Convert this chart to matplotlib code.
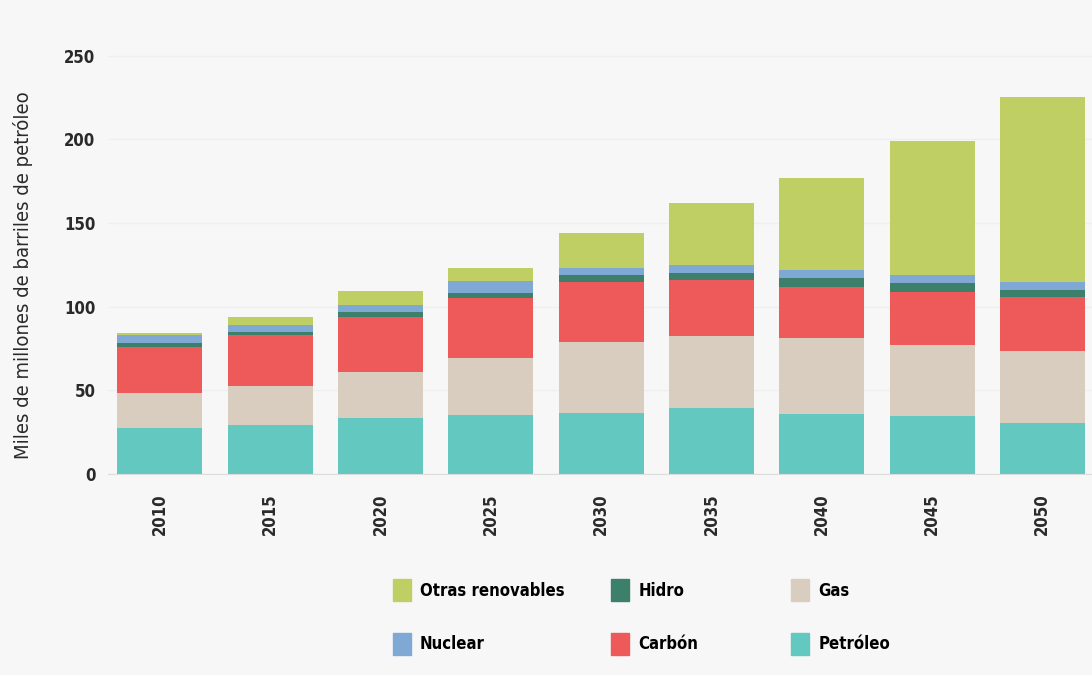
import matplotlib.pyplot as plt
import numpy as np
from matplotlib.patches import Patch

plt.rcParams['font.family'] = ['DejaVu Sans']
plt.rcParams['font.stretch'] = 'condensed'
plt.rcParams['font.weight'] = 'bold'

years = ['2010', '2015', '2020', '2025', '2030', '2035', '2040', '2045', '2050']
petroleo = [27.4, 29.0, 33.4, 35.0, 36.4, 39.4, 35.8, 34.6, 30.4]
gas = [20.9, 23.5, 27.6, 34.0, 42.4, 42.9, 45.2, 42.4, 43.0]
carbon = [27.5, 30.5, 33.0, 36.0, 35.8, 33.4, 30.6, 31.6, 32.2]
hidro = [2.2, 2.0, 3.0, 3.0, 4.1, 4.3, 5.4, 5.4, 4.2]
nuclear = [5.0, 4.0, 4.0, 7.0, 4.3, 4.7, 4.7, 4.7, 4.8]
otras = [1.0, 5.0, 8.0, 8.0, 20.8, 37.0, 55.3, 80.0, 110.9]

series = [('Petróleo', petroleo, '#63c8bf'),
          ('Gas', gas, '#d9cdbf'),
          ('Carbón', carbon, '#ee5a5a'),
          ('Hidro', hidro, '#3c7f6a'),
          ('Nuclear', nuclear, '#80a8d4'),
          ('Otras renovables', otras, '#bfcf63')]

bg = '#f7f7f7'
txt = '#2a2a2a'
fig = plt.figure(figsize=(10.92, 6.75), dpi=100, facecolor=bg)
ax = fig.add_axes([0.099, 0.298, 0.901, 0.632], facecolor=bg)

x = np.arange(len(years))
bottom = np.zeros(len(years))
for name, vals, col in series:
    ax.bar(x, vals, 0.77, bottom=bottom, color=col, label=name, zorder=3)
    bottom += np.array(vals)

ax.set_xlim(-0.47, 8.45)
ax.set_ylim(0, 255)
ax.set_yticks([0, 50, 100, 150, 200, 250])
ax.set_xticks(x)
ax.set_xticklabels(years, rotation=90, fontsize=12, color=txt)
ax.tick_params(axis='y', labelsize=12, colors=txt, length=0, pad=9)
ax.tick_params(axis='x', length=0, pad=14)
ax.grid(axis='y', color='#efefef', lw=1, zorder=0)
for s in ['top', 'right', 'left']:
    ax.spines[s].set_visible(False)
ax.spines['bottom'].set_color('#dddddd')
ax.set_ylabel('Miles de millones de barriles de petróleo', fontsize=14.5,
              color=txt, fontweight='normal')
ax.yaxis.set_label_coords(-0.076, 0.465)

cols = {s[0]: s[2] for s in series}
columns = [['Otras renovables', 'Nuclear'], ['Hidro', 'Carbón'], ['Gas', 'Petróleo']]
xpos = [0.352, 0.552, 0.717]
for names, xp in zip(columns, xpos):
    handles = [Patch(color=cols[n]) for n in names]
    fig.legend(handles, names, loc='upper left', bbox_to_anchor=(xp, 0.154),
               frameon=False, fontsize=12, handlelength=1.08, handleheight=1.6,
               handletextpad=0.55, labelspacing=1.95, borderpad=0)

fig.savefig('out.png', dpi=100, facecolor=bg)
